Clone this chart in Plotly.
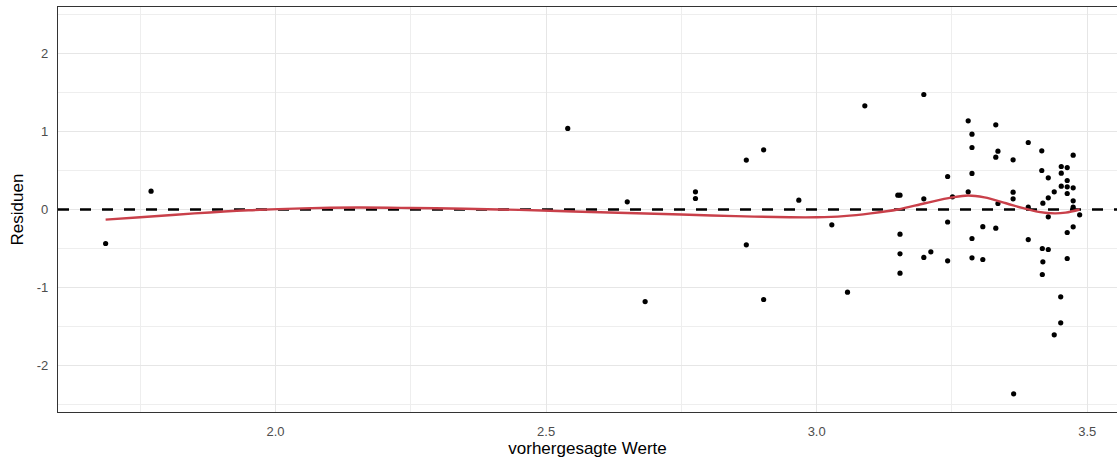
import plotly.graph_objects as go

# Fitted values and residuals of the model
fitted = [
    1.686, 1.770, 2.540, 2.650, 2.683, 2.776, 2.776, 2.870, 2.902, 2.870,
    2.902, 2.967, 3.028, 3.057, 3.089, 3.198, 3.280, 3.331, 3.287, 3.287,
    3.335, 3.331, 3.287, 3.242, 3.150, 3.154, 3.198, 3.251, 3.280, 3.335,
    3.242, 3.307, 3.331, 3.154, 3.154, 3.154, 3.198, 3.211, 3.242, 3.287,
    3.287, 3.307, 3.364, 3.451, 3.451, 3.439, 3.417, 3.418, 3.417, 3.428,
    3.391, 3.463, 3.463, 3.474, 3.486, 3.428, 3.391, 3.416, 3.363, 3.474,
    3.416, 3.428, 3.452, 3.463, 3.452, 3.463, 3.452, 3.463, 3.474, 3.463,
    3.439, 3.363, 3.363, 3.428, 3.418, 3.474, 3.391, 3.474,
]
residuals = [
    -0.436, 0.235, 1.040, 0.098, -1.180, 0.226, 0.141, 0.633, 0.765, -0.453,
    -1.154, 0.120, -0.197, -1.060, 1.329, 1.474, 1.137, 1.086, 0.966, 0.795,
    0.748, 0.671, 0.462, 0.423, 0.184, 0.184, 0.137, 0.163, 0.227, 0.077,
    -0.160, -0.220, -0.240, -0.316, -0.568, -0.816, -0.615, -0.543, -0.658, -0.372,
    -0.620, -0.641, -2.363, -1.120, -1.453, -1.607, -0.833, -0.671, -0.500, -0.513,
    -0.385, -0.628, -0.295, -0.222, -0.068, -0.094, 0.859, 0.752, 0.637, 0.697,
    0.500, 0.406, 0.551, 0.538, 0.466, 0.372, 0.299, 0.291, 0.278, 0.205,
    0.227, 0.222, 0.137, 0.150, 0.081, 0.111, 0.030, 0.030,
]

# Smoothed trend of the residuals
smooth_x = [
    1.686, 1.75, 1.85, 1.95, 2.05, 2.15, 2.25, 2.35, 2.45, 2.55,
    2.65, 2.75, 2.85, 2.95, 3.00, 3.05, 3.10, 3.15, 3.20, 3.25,
    3.28, 3.31, 3.35, 3.38, 3.41, 3.44, 3.46, 3.486,
]
smooth_y = [
    -0.13, -0.10, -0.05, -0.01, 0.015, 0.025, 0.02, 0.01, -0.005, -0.025,
    -0.045, -0.065, -0.085, -0.10, -0.10, -0.085, -0.05, 0.0, 0.08, 0.155,
    0.18, 0.155, 0.08, 0.02, -0.03, -0.05, -0.04, 0.0,
]

x_ticks = [2.0, 2.5, 3.0, 3.5]
x_tick_labels = ["2.0", "2.5", "3.0", "3.5"]
y_ticks = [-2, -1, 0, 1, 2]
y_tick_labels = ["-2", "-1", "0", "1", "2"]

x_range = [1.598, 3.555]
y_range = [-2.596, 2.596]

fig = go.Figure()

fig.add_trace(go.Scatter(
    x=fitted, y=residuals, mode="markers",
    marker=dict(color="black", size=5.2, line=dict(width=0)),
    showlegend=False, hoverinfo="x+y",
))

fig.add_trace(go.Scatter(
    x=x_range, y=[0, 0], mode="lines",
    line=dict(color="black", width=2.6, dash="11px,11px"),
    showlegend=False, hoverinfo="skip",
))

fig.add_trace(go.Scatter(
    x=smooth_x, y=smooth_y, mode="lines",
    line=dict(color="#C9404A", width=2.4, shape="spline", smoothing=1.0),
    showlegend=False, hoverinfo="skip",
))

axis_font = dict(family="Liberation Sans, Arial, sans-serif", size=13, color="#4D4D4D")
title_font = dict(family="Liberation Sans, Arial, sans-serif", size=17, color="black")

fig.update_layout(
    width=1117, height=459,
    margin=dict(l=58, r=0, t=7, b=47),
    paper_bgcolor="white", plot_bgcolor="white",
    xaxis=dict(
        range=x_range, tickvals=x_ticks, ticktext=x_tick_labels,
        showgrid=True, gridcolor="#E6E6E6", gridwidth=1.4,
        minor=dict(tickvals=[1.75, 2.25, 2.75, 3.25], showgrid=True,
                   gridcolor="#EEEEEE", gridwidth=0.8),
        showline=True, linecolor="#333333", linewidth=1.3, mirror=True,
        zeroline=False, ticks="", tickfont=axis_font, ticklabelstandoff=7,
        title=dict(text="vorhergesagte Werte", font=title_font, standoff=4),
    ),
    yaxis=dict(
        range=y_range, tickvals=y_ticks, ticktext=y_tick_labels,
        showgrid=True, gridcolor="#E6E6E6", gridwidth=1.4,
        minor=dict(tickvals=[-2.5, -1.5, -0.5, 0.5, 1.5, 2.5], showgrid=True,
                   gridcolor="#EEEEEE", gridwidth=0.8),
        showline=True, linecolor="#333333", linewidth=1.3, mirror=False,
        zeroline=False, ticks="", tickfont=axis_font, ticklabelstandoff=6,
        title=dict(text="Residuen", font=title_font, standoff=8),
    ),
)

fig.write_html("out.html")
